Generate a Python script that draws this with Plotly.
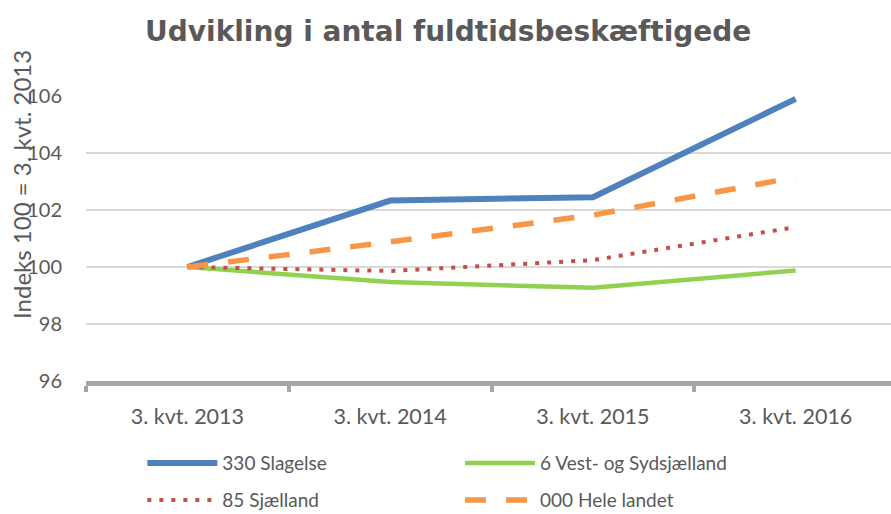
import plotly.graph_objects as go

categories = ["3. kvt. 2013", "3. kvt. 2014", "3. kvt. 2015", "3. kvt. 2016"]
slagelse = [100.0, 102.33, 102.45, 105.9]
vest_syd = [100.0, 99.47, 99.27, 99.88]
sjaelland = [100.0, 99.86, 100.24, 101.4]
hele_landet = [100.0, 100.88, 101.82, 103.15]
y_ticks = [96, 98, 100, 102, 104, 106]

grey = "#595959"
fig = go.Figure()
fig.add_trace(go.Scatter(x=categories, y=slagelse, name="330 Slagelse", mode="lines",
                         line=dict(color="#4F81BD", width=6), legend="legend"))
fig.add_trace(go.Scatter(x=categories, y=vest_syd, name="6 Vest- og Sydsjælland", mode="lines",
                         line=dict(color="#92D050", width=4.5), legend="legend2"))
fig.add_trace(go.Scatter(x=categories, y=sjaelland, name="85 Sjælland", mode="lines",
                         line=dict(color="#C0504D", width=4, dash="4px,8px"), legend="legend3"))
fig.add_trace(go.Scatter(x=categories, y=hele_landet, name="000 Hele landet", mode="lines",
                         line=dict(color="#F79646", width=5.5, dash="21px,20px"), legend="legend4"))

leg_common = dict(orientation="h", xanchor="left", yanchor="middle", itemwidth=70,
                  yref="container", bgcolor="rgba(0,0,0,0)", borderwidth=0,
                  font=dict(family="Lato, sans-serif", size=19, color=grey))
col1, col2 = 0.07, 0.4646
row1, row2 = 0.099, 0.027

fig.update_layout(
    width=891, height=514,
    margin=dict(l=86, r=0, t=96, b=133),
    paper_bgcolor="white", plot_bgcolor="white",
    font=dict(family="Lato, Liberation Sans, sans-serif", size=20, color=grey),
    title=dict(text="<b>Udvikling i antal fuldtidsbeskæftigede</b>",
               font=dict(family="DejaVu Sans", size=28, color=grey),
               x=0.503, xanchor="center", y=0.94, yanchor="middle"),
    showlegend=True,
    legend=dict(x=col1, y=row1, **leg_common),
    legend2=dict(x=col2, y=row1, **leg_common),
    legend3=dict(x=col1, y=row2, **leg_common),
    legend4=dict(x=col2, y=row2, **leg_common),
    xaxis=dict(type="category", range=[-0.5, 3.47], showgrid=False,
               showline=True, linecolor="#A6A6A6", linewidth=5,
               ticks="outside", tickson="boundaries", ticklen=6, tickwidth=4,
               tickcolor="#A6A6A6", ticklabelstandoff=12,
               tickfont=dict(size=21.5, color=grey)),
    yaxis=dict(range=[96, 106], tickvals=y_ticks, showgrid=True, gridcolor="#D9D9D9",
               gridwidth=2, zeroline=False, showline=False, ticks="",
               ticklabelstandoff=23, tickfont=dict(size=20, color=grey)),
    annotations=[dict(text="Indeks 100 = 3. kvt. 2013", textangle=-90,
                      xref="paper", yref="paper", x=-0.08, y=0.69,
                      xanchor="center", yanchor="middle", showarrow=False,
                      font=dict(size=24, color=grey))],
)

fig.write_html("out.html", config={"displayModeBar": False},
               post_script="document.body.style.margin='0';")
